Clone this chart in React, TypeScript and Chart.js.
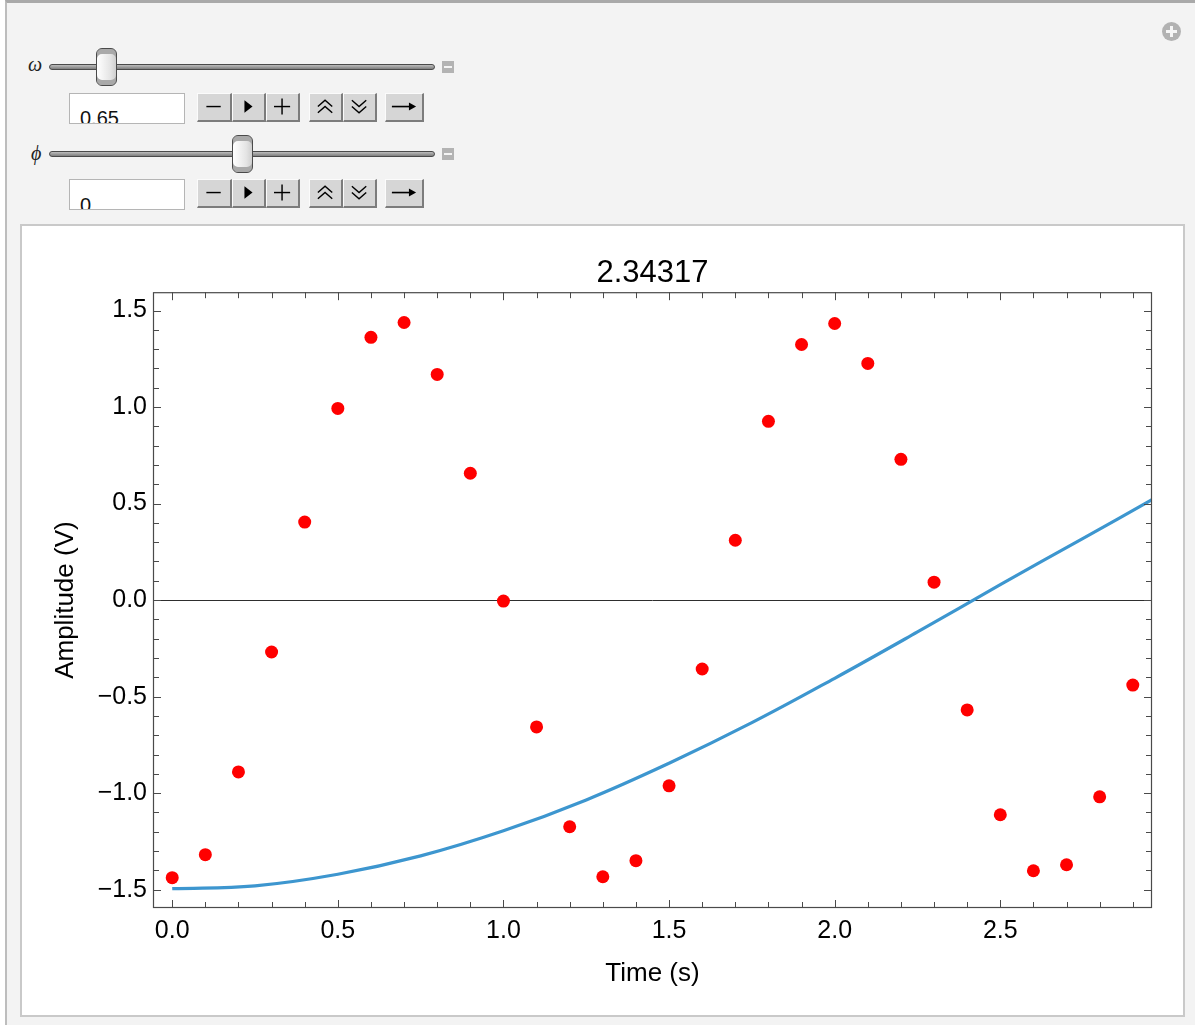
import React, { useEffect, useRef } from "react";
import { Chart, registerables } from "chart.js";

Chart.register(...registerables);

// ---- data ----
const TIMES = [0, 0.1, 0.2, 0.3, 0.4, 0.5, 0.6, 0.7, 0.8, 0.9, 1.0, 1.1, 1.2, 1.3, 1.4, 1.5, 1.6, 1.7, 1.8, 1.9, 2.0, 2.1, 2.2, 2.3, 2.4, 2.5, 2.6, 2.7, 2.8, 2.9];
const AMPLITUDES = [-1.438, -1.319, -0.89, -0.269, 0.404, 0.993, 1.361, 1.438, 1.169, 0.657, -0.005, -0.657, -1.174, -1.433, -1.35, -0.962, -0.357, 0.31, 0.926, 1.324, 1.433, 1.226, 0.729, 0.093, -0.569, -1.112, -1.402, -1.371, -1.019, -0.44];
const CURVE_T = [0, 0.25, 0.5, 0.75, 1.0, 1.25, 1.5, 1.75, 2.0, 2.25, 2.5, 2.75, 2.958];
const CURVE_V = [-1.495, -1.48, -1.42, -1.325, -1.195, -1.035, -0.845, -0.635, -0.405, -0.165, 0.08, 0.32, 0.52];
const X_TICKS = [0, 0.5, 1.0, 1.5, 2.0, 2.5];
const Y_TICKS = [-1.5, -1.0, -0.5, 0, 0.5, 1.0, 1.5];
const X_RANGE = [-0.058, 2.958];
const Y_RANGE = [-1.595, 1.595];
const MINOR_STEP = 0.1;
const TITLE = "2.34317";
const X_LABEL = "Time (s)";
const Y_LABEL = "Amplitude (V)";
const OMEGA_VALUE = "0.65";
const PHI_VALUE = "0";

const FONT = "'Liberation Sans', Arial, Helvetica, sans-serif";
const POINT_COLOR = "#ff0000";
const CURVE_COLOR = "#3d96cf";

const fmt = (v: number) => v.toFixed(1).replace("-", "\u2212");

function minorValues(min: number, max: number) {
  const out: number[] = [];
  const start = Math.ceil(min / MINOR_STEP - 1e-9);
  const end = Math.floor(max / MINOR_STEP + 1e-9);
  for (let i = start; i <= end; i++) out.push(Math.round(i * MINOR_STEP * 1000) / 1000);
  return out;
}

const framePlugin = {
  id: "mmaFrame",
  beforeDatasetsDraw(chart: any) {
    const { ctx, chartArea: a, scales } = chart;
    const y0 = Math.round(scales.y.getPixelForValue(0)) + 0.5;
    ctx.save();
    ctx.strokeStyle = "#2e2e2e";
    ctx.lineWidth = 1;
    ctx.beginPath();
    ctx.moveTo(a.left, y0);
    ctx.lineTo(a.right, y0);
    ctx.stroke();
    ctx.restore();
  },
  afterDatasetsDraw(chart: any) {
    const { ctx, chartArea: a, scales } = chart;
    const xs = scales.x;
    const ys = scales.y;
    ctx.save();
    ctx.strokeStyle = "#4a4a4a";
    ctx.lineWidth = 1.2;
    ctx.strokeRect(a.left + 0.5, a.top + 0.5, a.right - a.left - 1, a.bottom - a.top - 1);
    ctx.lineWidth = 1;
    const isMajor = (v: number, list: number[]) => list.some((t) => Math.abs(t - v) < 1e-6);
    for (const v of minorValues(X_RANGE[0], X_RANGE[1])) {
      const px = Math.round(xs.getPixelForValue(v)) + 0.5;
      const len = isMajor(v, X_TICKS) ? 8 : 6;
      ctx.beginPath();
      ctx.moveTo(px, a.bottom);
      ctx.lineTo(px, a.bottom - len);
      ctx.moveTo(px, a.top);
      ctx.lineTo(px, a.top + len);
      ctx.stroke();
    }
    for (const v of minorValues(Y_RANGE[0], Y_RANGE[1])) {
      const py = Math.round(ys.getPixelForValue(v)) + 0.5;
      const len = isMajor(v, Y_TICKS) ? 8 : 6;
      ctx.beginPath();
      ctx.moveTo(a.left, py);
      ctx.lineTo(a.left + len, py);
      ctx.moveTo(a.right, py);
      ctx.lineTo(a.right - len, py);
      ctx.stroke();
    }
    ctx.restore();
  },
};

function PlotCanvas() {
  const ref = useRef<HTMLCanvasElement | null>(null);
  useEffect(() => {
    if (!ref.current) return;
    const points = TIMES.map((t, i) => ({ x: t, y: AMPLITUDES[i] }));
    const curve = CURVE_T.map((t, i) => ({ x: t, y: CURVE_V[i] }));
    const chart = new Chart(ref.current, {
      type: "scatter",
      data: {
        datasets: [
          {
            data: points,
            pointRadius: 6.5,
            pointBackgroundColor: POINT_COLOR,
            pointBorderWidth: 0,
            borderColor: POINT_COLOR,
            showLine: false,
          },
          {
            data: curve,
            showLine: true,
            pointRadius: 0,
            borderColor: CURVE_COLOR,
            borderWidth: 3.2,
            tension: 0.4,
          },
        ],
      } as any,
      options: {
        responsive: false,
        animation: false,
        devicePixelRatio: 1,
        events: [],
        layout: { padding: { left: 0, right: 31, top: 0, bottom: 0 } },
        plugins: {
          legend: { display: false },
          tooltip: { enabled: false },
          title: {
            display: true,
            text: TITLE,
            fullSize: false,
            color: "#000",
            font: { family: FONT, size: 31, weight: "normal" },
            padding: { top: 29, bottom: 0 },
          },
        },
        scales: {
          x: {
            type: "linear",
            position: "bottom",
            min: X_RANGE[0],
            max: X_RANGE[1],
            grid: { display: false, drawTicks: false },
            border: { display: false },
            afterBuildTicks: (s: any) => {
              s.ticks = X_TICKS.map((v) => ({ value: v }));
            },
            afterFit: (s: any) => {
              s.height = 107;
            },
            ticks: {
              callback: (v: any) => fmt(Number(v)),
              color: "#000",
              font: { family: FONT, size: 25 },
              padding: 8,
              maxRotation: 0,
              autoSkip: false,
            },
            title: {
              display: true,
              text: X_LABEL,
              color: "#000",
              font: { family: FONT, size: 26 },
              padding: { top: 0, bottom: 26 },
            },
          },
          y: {
            type: "linear",
            position: "left",
            min: Y_RANGE[0],
            max: Y_RANGE[1],
            grid: { display: false, drawTicks: false },
            border: { display: false },
            afterBuildTicks: (s: any) => {
              s.ticks = Y_TICKS.map((v) => ({ value: v }));
            },
            afterFit: (s: any) => {
              s.width = 131;
            },
            ticks: {
              callback: (v: any) => fmt(Number(v)),
              color: "#000",
              font: { family: FONT, size: 25 },
              padding: 6,
              autoSkip: false,
            },
            title: {
              display: true,
              text: Y_LABEL,
              color: "#000",
              font: { family: FONT, size: 26 },
              padding: { top: 28, bottom: 0 },
            },
          },
        },
      } as any,
      plugins: [framePlugin as any],
    });
    return () => chart.destroy();
  }, []);
  return <canvas ref={ref} width={1161} height={789} style={{ position: "absolute", left: 0, top: 0, width: 1161, height: 789 }} />;
}

const abs = (l: number, t: number, w: number, h: number): React.CSSProperties => ({
  position: "absolute",
  left: l,
  top: t,
  width: w,
  height: h,
  boxSizing: "border-box",
});

function Icon({ kind }: { kind: string }) {
  const s = { stroke: "#000", strokeWidth: 1.6, fill: "none" } as any;
  let body: React.ReactNode = null;
  if (kind === "minus") body = <line x1={8} y1={14} x2={24} y2={14} {...s} />;
  if (kind === "play") body = <polygon points="12,7 12,21 21,14" fill="#000" />;
  if (kind === "plus")
    body = (
      <g {...s}>
        <line x1={7} y1={14} x2={25} y2={14} />
        <line x1={16} y1={5} x2={16} y2={23} />
      </g>
    );
  if (kind === "up")
    body = (
      <g {...s}>
        <polyline points="8,14 16,7 24,14" />
        <polyline points="8,21 16,14 24,21" />
      </g>
    );
  if (kind === "down")
    body = (
      <g {...s}>
        <polyline points="8,7 16,14 24,7" />
        <polyline points="8,14 16,21 24,14" />
      </g>
    );
  if (kind === "arrow")
    body = (
      <g>
        <line x1={6} y1={14} x2={28} y2={14} stroke="#000" strokeWidth={1.8} />
        <polygon points="25,9.5 33,14 25,18.5" fill="#000" />
      </g>
    );
  return (
    <svg width="100%" height="100%" viewBox={kind === "arrow" ? "0 0 39 29" : "0 0 33 29"} style={{ position: "absolute", left: 0, top: 0 }}>
      {body}
    </svg>
  );
}

function Button({ left, top, width, kind }: { left: number; top: number; width: number; kind: string }) {
  return (
    <div
      style={{
        ...abs(left, top, width, 29),
        background: "#d6d6d6",
        borderTop: "1px solid #fbfbfb",
        borderLeft: "1px solid #fbfbfb",
        borderRight: "2px solid #7c7c7c",
        borderBottom: "2px solid #7c7c7c",
      }}
    >
      <Icon kind={kind} />
    </div>
  );
}

function ControlRow({ y, thumbLeft, value, symbol, symbolTop, symbolLeft, inputTop, inputH, textTop }: any) {
  const btnTop = inputTop;
  return (
    <>
      <div style={{ position: "absolute", left: symbolLeft, top: symbolTop, fontFamily: "'Liberation Serif', 'DejaVu Serif', serif", fontStyle: "italic", fontSize: 20, lineHeight: "20px", color: "#222" }}>{symbol}</div>
      <div
        style={{
          ...abs(49, y - 3, 386, 6),
          borderRadius: 3,
          border: "1px solid #4a4a4a",
          background: "linear-gradient(to bottom, #bdbdbd, #7e7e7e)",
        }}
      />
      <div
        style={{
          ...abs(thumbLeft, y - 19, 21, 38),
          borderRadius: 6,
          border: "1.5px solid #4a4a4a",
          background: "linear-gradient(to right, #ffffff, #e4e4e4 70%, #cfcfcf)",
          boxShadow: "inset 0 5px 0 #a9a9a9, inset 0 -5px 0 #a9a9a9",
        }}
      />
      <div style={{ ...abs(442, y - 6, 12, 12), background: "#b3b3b3" }}>
        <div style={{ ...abs(2, 5, 8, 2), background: "#f4f4f4" }} />
      </div>
      <div style={{ ...abs(69, inputTop, 116, inputH), background: "#fff", border: "1px solid #b5b5b5", overflow: "hidden" }}>
        <div style={{ position: "absolute", left: 10, top: textTop, fontFamily: FONT, fontSize: 20, lineHeight: "20px", color: "#111" }}>{value}</div>
      </div>
      <Button left={197} top={btnTop} width={35} kind="minus" />
      <Button left={232} top={btnTop} width={34} kind="play" />
      <Button left={266} top={btnTop} width={34} kind="plus" />
      <Button left={309} top={btnTop} width={34} kind="up" />
      <Button left={343} top={btnTop} width={34} kind="down" />
      <Button left={385} top={btnTop} width={39} kind="arrow" />
    </>
  );
}

export default function App() {
  return (
    <div style={{ position: "absolute", left: 0, top: 0, width: 1195, height: 1025, overflow: "hidden", background: "#fff" }}>
      <div
        style={{
          ...abs(5, 0, 1200, 1040),
          background: "#f3f3f3",
          borderLeft: "2px solid #bdbdbd",
          borderTop: "3px solid #a9a9a9",
        }}
      />
      <div style={{ ...abs(1162, 22, 19, 19), borderRadius: "50%", background: "#b2b2b2" }}>
        <div style={{ ...abs(4, 8, 11, 3), background: "#f6f6f6" }} />
        <div style={{ ...abs(8, 4, 3, 11), background: "#f6f6f6" }} />
      </div>
      <ControlRow y={67} thumbLeft={96} value={OMEGA_VALUE} symbol={"\u03c9"} symbolLeft={28} symbolTop={54} inputTop={93} inputH={31} textTop={14} />
      <ControlRow y={154} thumbLeft={232} value={PHI_VALUE} symbol={"\u03d5"} symbolLeft={31} symbolTop={143} inputTop={179} inputH={31} textTop={15} />
      <div style={{ ...abs(20, 224, 1165, 793), background: "#fff", border: "2px solid #c9c9c9" }}>
        <PlotCanvas />
      </div>
    </div>
  );
}
